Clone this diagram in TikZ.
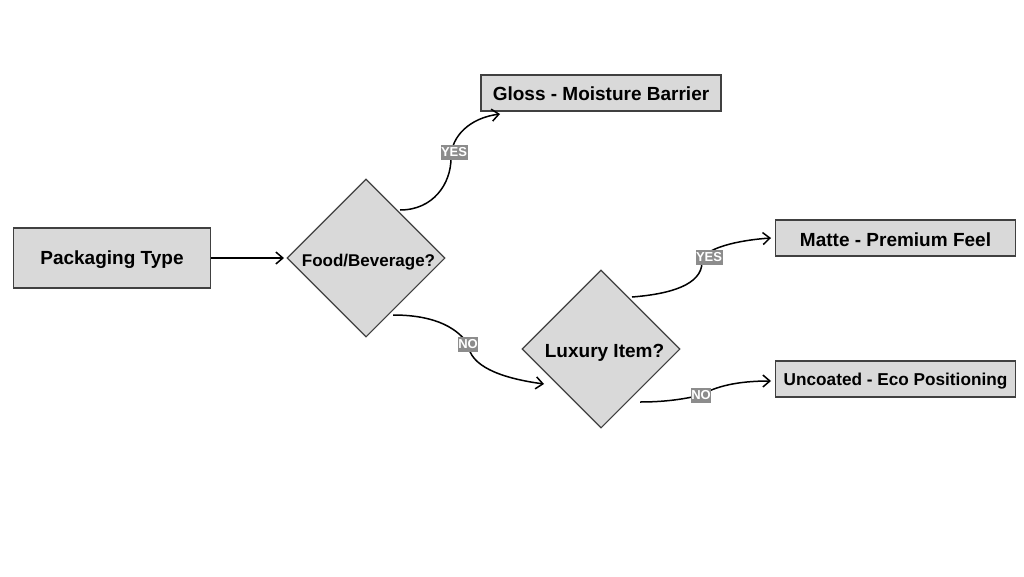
\documentclass[tikz,border=0pt]{standalone}
\usepackage{fontspec}
\setmainfont{Liberation Sans}
\usetikzlibrary{shapes.geometric, positioning, arrows.meta}
\definecolor{boxfill}{RGB}{217,217,217}
\definecolor{boxline}{RGB}{64,64,64}
\definecolor{tagfill}{RGB}{140,140,140}

\begin{document}
\begin{tikzpicture}[
			x=1pt,
			y=-1pt,
			on grid,
			result/.style={
				draw=boxline,
				fill=boxfill,
				line width=1.1pt,
				minimum width=241pt,
				minimum height=36pt,
				inner sep=0pt,
				text height=15.5pt,
				text depth=0pt,
				font=\bfseries\fontsize{19}{22}\selectfont
			},
			decision/.style={
				draw=boxline,
				fill=boxfill,
				line width=1.1pt,
				diamond,
				aspect=1,
				minimum size=158pt,
				inner sep=0pt,
				text height=16pt,
				text depth=0pt,
				font=\bfseries\fontsize{17}{20}\selectfont
			},
			tag/.style={
				fill=tagfill,
				text=white,
				inner sep=0pt,
				minimum width=27pt,
				minimum height=15pt,
				font=\bfseries\fontsize{13}{15}\selectfont
			},
			link/.style={
				draw=black,
				line width=1.5pt,
				-{Straight Barb[length=7pt,width=12pt]}
			}
			]
			\useasboundingbox (0,0) rectangle (1024,576);
			
			% Nodes
			\node[result, minimum width=197pt, minimum height=60pt, text height=13pt] (pack) at (112,258) {Packaging Type};
			\node[decision] (food) [right=254pt of pack] {\hspace*{5pt}Food/Beverage?};
			\node[decision, font=\bfseries\fontsize{19}{22}\selectfont] (luxury) [right=235pt of food, yshift=-91pt] {\hspace*{7pt}Luxury Item?};
			\node[result, minimum width=240pt] (gloss) [above=256pt of luxury] {Gloss - Moisture Barrier};
			\node[result, minimum width=240pt, text height=16pt] (matte) [right=294.5pt of luxury, yshift=111pt] {Matte - Premium Feel};
			\node[result, minimum width=240pt, text height=13pt, font=\bfseries\fontsize{17.2}{20}\selectfont] (uncoated) [below=141pt of matte] {Uncoated - Eco Positioning};
			
			% Free ends
			\coordinate (foodyes) at (400,210);
			\coordinate (foodno) at (393,315);
			\coordinate (luxyes) at (632,297);
			\coordinate (luxno) at (640,402);
			\coordinate (packout) at (284,258);
			\coordinate (glossin) at (500,114);
			\coordinate (luxin) at (544,384);
			\coordinate (mattein) at (771,238);
			\coordinate (uncoatedin) at (771,381);
			
			% Connectors
			\draw[link] (pack) -- (packout);
			\draw[link] (foodyes) .. controls (433,210) and (451,184) .. (451,158)
				.. controls (451,136) and (470,118) .. node[tag, pos=0, xshift=3pt, yshift=6pt] {YES} (glossin);
			\draw[link] (foodno) .. controls (430,315) and (455,325) .. (468,344)
				.. controls (470,366) and (500,378) .. node[tag, pos=0, minimum width=20pt] {NO} (luxin);
			\draw[link] (luxyes) .. controls (670,294) and (702,285) .. (702,262)
				.. controls (702,248) and (740,240) .. node[tag, pos=0, xshift=7pt, yshift=5pt] {YES} (mattein);
			\draw[link] (luxno) .. controls (665,402) and (685,399) .. (701,395)
				.. controls (720,384) and (745,381) .. node[tag, pos=0, minimum width=20pt] {NO} (uncoatedin);
		\end{tikzpicture}
\end{document}
